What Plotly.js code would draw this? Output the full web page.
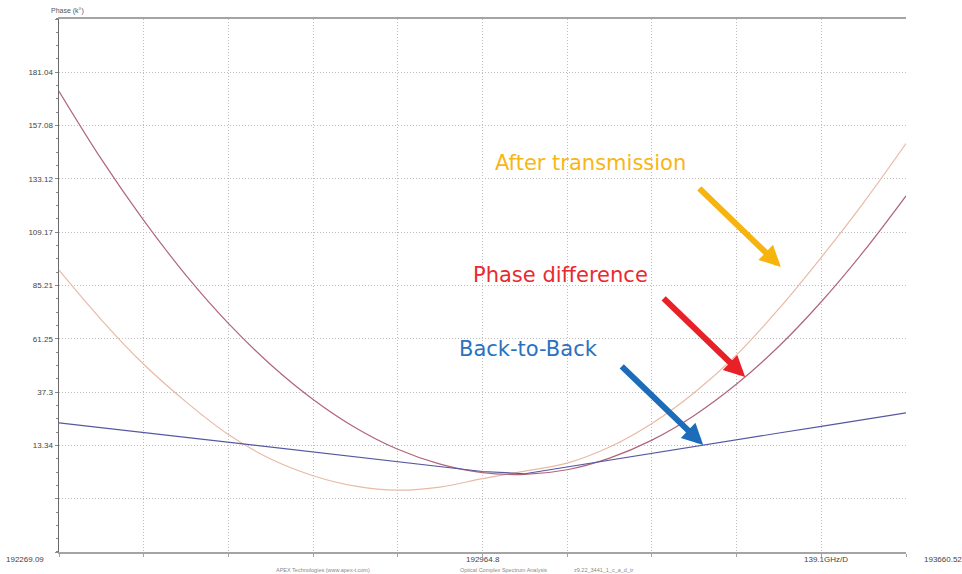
<!DOCTYPE html>
<html>
<head>
<meta charset="utf-8">
<script src="https://cdn.plot.ly/plotly-3.0.1.min.js"></script>
<style>html,body{margin:0;padding:0;background:#fff;}#chart{width:962px;height:574px;}</style>
</head>
<body>
<div id="chart"></div>
<script>
// Frequency axis (GHz)
const freq = [192269.09,192338.66,192408.23,192477.80,192547.38,192616.95,192686.52,192756.09,192825.66,192895.23,
  192964.81,193034.38,193103.95,193173.52,193243.09,193312.66,193382.23,193451.80,193521.38,193590.95,193660.52];
// Phase (k°)
const phaseDifference = [172.5,142.0,114.5,89.8,68.2,49.6,34.0,21.3,11.6,4.9,1.1,0.3,2.4,7.6,15.7,26.8,40.9,57.9,77.9,100.5,125.5];
const afterTransmission = [92.1,69.8,49.8,32.9,18.2,7.2,-0.3,-5.0,-6.8,-5.4,-1.6,1.8,5.4,12.6,23.2,37.0,54.0,74.8,97.9,122.5,149.0];
const backToBack = [23.5,21.3,19.1,16.9,14.7,12.6,10.4,8.2,6.0,3.8,1.6,0.6,3.7,6.7,9.8,12.8,15.9,18.9,21.9,25.0,28.0];

const yTickVals = [-34.58,-10.62,13.34,37.3,61.25,85.21,109.17,133.12,157.08,181.04,205.0];
const yTickText = ['','','13.34','37.3','61.25','85.21','109.17','133.12','157.08','181.04',''];
const xTickVals = [192269.09,192408.23,192547.38,192686.52,192825.66,192964.8,193103.95,193243.09,193382.23,193521.38,193660.52];
const xLabels = ['192269.09','192964.8','139.1GHz/D','193660.52'];
const footer = ['APEX Technologies (www.apex-t.com)','Optical Complex Spectrum Analysis','z9.22_3441_1_c_a_d_tr'];
const seriesNames = ['Phase difference','After transmission','Back-to-Back'];

const traces = [
  {x: freq, y: afterTransmission, name: seriesNames[1], mode: 'lines', line: {color: '#e8baa6', width: 1.2, shape: 'spline', smoothing: 1}},
  {x: freq, y: phaseDifference, name: seriesNames[0], mode: 'lines', line: {color: '#b0667a', width: 1.2, shape: 'spline', smoothing: 1}},
  {x: freq, y: backToBack, name: seriesNames[2], mode: 'lines', line: {color: '#5658a0', width: 1.2}}
];

const small = {family: 'Liberation Sans, Arial, sans-serif', size: 8, color: '#444'};
const tiny = {family: 'Liberation Sans, Arial, sans-serif', size: 5.5, color: '#8a8a8a'};
const big = '"DejaVu Sans", sans-serif';

function pa(x, y, text, font) {
  return {xref: 'paper', yref: 'paper', x: x, y: y, text: text, showarrow: false, font: font, xanchor: 'center', yanchor: 'middle'};
}
function arrow(x, y, color) {
  return {xref: 'paper', yref: 'paper', x: x, y: y, ax: -83, ay: -80, text: '', showarrow: true,
    arrowhead: 2, arrowsize: 0.7, arrowwidth: 6, arrowcolor: color, standoff: 0};
}

const layout = {
  width: 962, height: 574,
  margin: {l: 59, r: 56, t: 19, b: 22, pad: 0},
  paper_bgcolor: '#fff', plot_bgcolor: '#fff',
  showlegend: false,
  xaxis: {
    range: [192269.09, 193660.52], tickmode: 'array', tickvals: xTickVals, ticktext: xTickVals.map(() => ''),
    showgrid: true, gridcolor: '#bdbdbd', griddash: '1px,2px', gridwidth: 1,
    showline: true, linecolor: '#a4a4a4', linewidth: 2, mirror: true,
    ticks: 'outside', ticklen: 3, tickcolor: '#a4a4a4', zeroline: false
  },
  yaxis: {
    range: [-34.58, 205.0], tickmode: 'array', tickvals: yTickVals, ticktext: yTickText,
    showgrid: true, gridcolor: '#bdbdbd', griddash: '1px,2px', gridwidth: 1,
    showline: true, linecolor: '#6a6a6a', linewidth: 1.5,
    ticks: 'outside', ticklen: 3, tickcolor: '#888', tickfont: small, zeroline: false,
    minor: {tick0: 13.34, dtick: 5.9895, ticks: 'outside', ticklen: 2, tickcolor: '#888', showgrid: false}
  },
  annotations: [
    pa(0.0103, 1.015, 'Phase (k°)', {family: small.family, size: 7, color: '#555'}),
    pa(-0.0405, -0.0135, xLabels[0], small),
    pa(0.5, -0.0135, xLabels[1], small),
    pa(0.906, -0.0135, xLabels[2], small),
    pa(1.044, -0.0135, xLabels[3], small),
    pa(0.3114, -0.0335, footer[0], tiny),
    pa(0.5245, -0.0335, footer[1], tiny),
    pa(0.643, -0.0335, footer[2], tiny),
    pa(0.627, 0.730, seriesNames[1], {family: big, size: 21, color: '#f8b614'}),
    pa(0.592, 0.5197, seriesNames[0], {family: big, size: 21, color: '#ea2a30'}),
    pa(0.5538, 0.381, seriesNames[2], {family: big, size: 21, color: '#2a72c0'}),
    arrow(0.8522, 0.5347, '#f7b40e'),
    arrow(0.8101, 0.3283, '#e82028'),
    arrow(0.7606, 0.2008, '#1c6cba')
  ]
};

Plotly.newPlot('chart', traces, layout, {displayModeBar: false, staticPlot: true});
</script>
</body>
</html>
